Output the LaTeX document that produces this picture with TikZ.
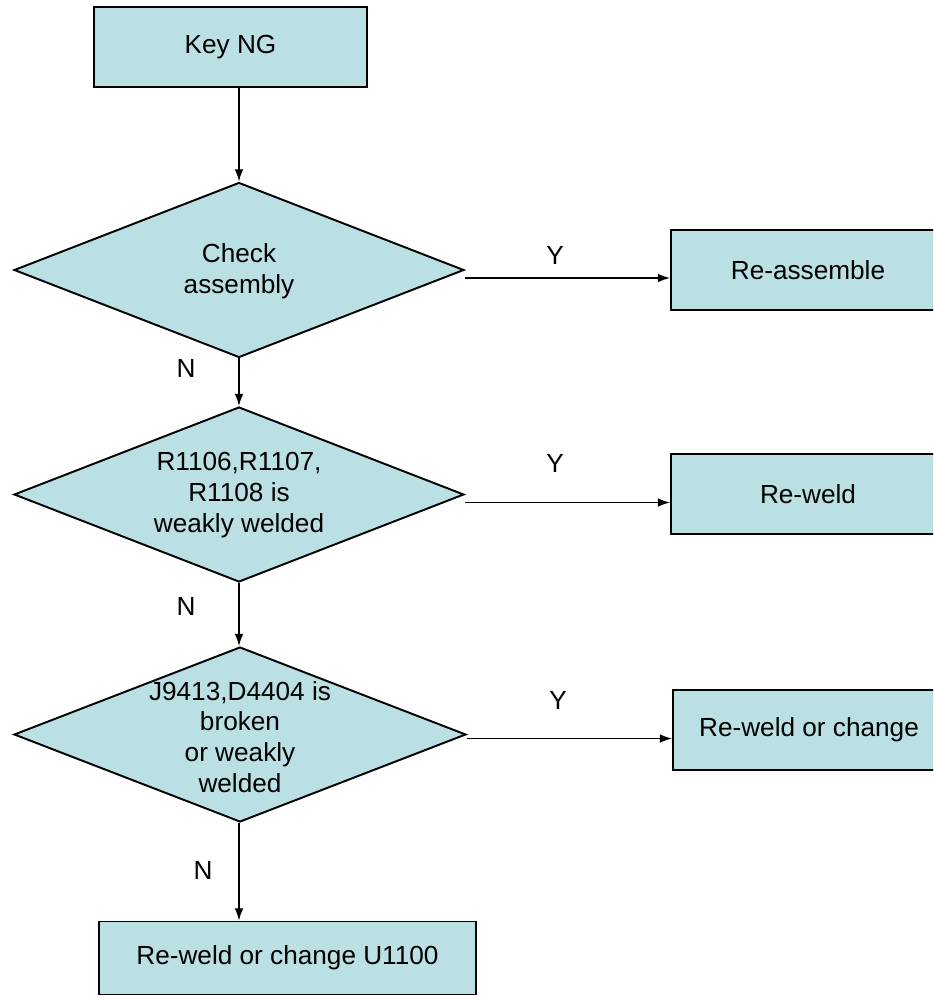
\documentclass[tikz,border=0pt]{standalone}
\usepackage{fontspec}
\setmainfont{Liberation Sans}
\usetikzlibrary{shapes.geometric,arrows.meta}
\definecolor{boxfill}{RGB}{186,224,227}
\tikzset{
  stepbox/.style={draw=black, line width=1.1pt, fill=boxfill, rectangle, inner sep=0pt,
    font=\fontsize{14.9}{17.5}\selectfont},
  decision/.style={draw=black, line width=1.1pt, fill=boxfill, diamond, inner sep=0pt,
    minimum width=9cm, minimum height=3.5cm},
  txt/.style={align=center, font=\fontsize{14.9}{17.5}\selectfont},
  flow/.style={line width=0.85pt, -{Latex[length=7pt,width=5pt]}}
}
\begin{document}
\begin{tikzpicture}[x=0.02cm, y=-0.02cm]
  \useasboundingbox (0,0) rectangle (933,1000);
  \clip (0,0) rectangle (933,1000);

  % Boxes
  \node[stepbox, minimum width=5.46cm, minimum height=1.6cm] (key) at (230.5,47) {Key NG};
  \node[stepbox, minimum width=5.48cm, minimum height=1.6cm] (ra) at (808,270) {Re-assemble};
  \node[stepbox, minimum width=5.48cm, minimum height=1.6cm] (rw) at (808,494) {Re-weld};
  \node[stepbox, minimum width=5.44cm, minimum height=1.6cm] (rc) at (809,730) {Re-weld or change};
  \node[stepbox, minimum width=7.54cm, minimum height=1.46cm] (fix) at (287.5,958) {Re-weld or change U1100};

  % Decisions
  \node[decision] (d1) at (239,270) {};
  \node[txt] (t1) at (239,271) {Check\\assembly};
  \node[decision] (d2) at (239,494.5) {};
  \node[txt] (t2) at (239,495) {R1106,R1107,\\R1108 is\\weakly welded};
  \node[decision, minimum width=9.04cm] (d3) at (240,734.5) {};
  \node[txt] (t3) at (240,737) {J9413,D4404 is\\broken\\or weakly\\welded};

  % Connectors
  \draw[flow] (key.south -| d1.north) -- (d1.north);
  \draw[flow] ([yshift=-0.16cm]d1.east) -- ([yshift=-0.16cm]d1.east -| ra.west);
  \draw[flow] (d1.south) -- (d2.north);
  \draw[flow] ([yshift=-0.16cm]d2.east) -- ([yshift=-0.16cm]d2.east -| rw.west);
  \draw[flow] (d2.south) -- (d3.north -| d2.south);
  \draw[flow] ([yshift=-0.08cm]d3.east) -- ([yshift=-0.08cm]d3.east -| rc.west);
  \draw[flow] (d3.south -| d2.south) -- (fix.north -| d2.south);

  % Y / N labels
  \node[txt] (y1) at (555,255) {Y};
  \node[txt] (y2) at (555,463) {Y};
  \node[txt] (y3) at (558,700) {Y};
  \node[txt] (n1) at (186,368) {N};
  \node[txt] (n2) at (186,606) {N};
  \node[txt] (n3) at (203,870) {N};
\end{tikzpicture}
\end{document}
